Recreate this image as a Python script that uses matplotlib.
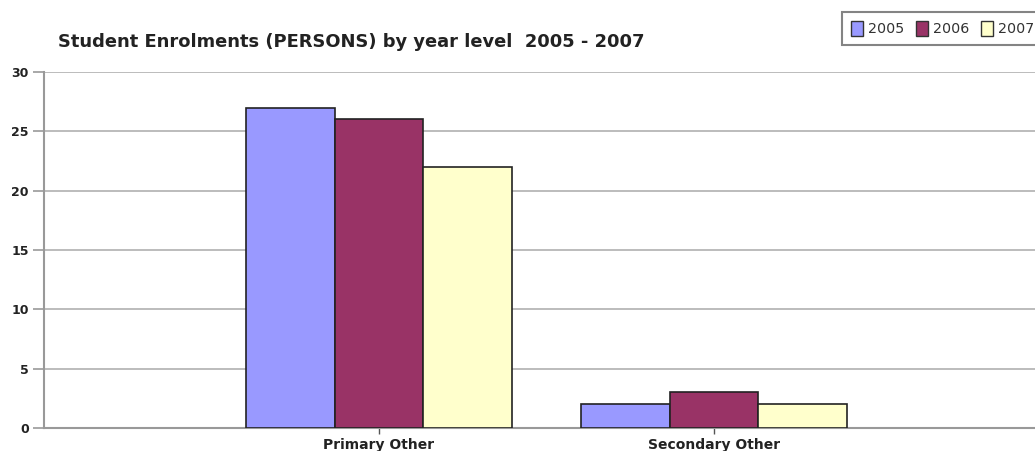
import matplotlib.pyplot as plt
import numpy as np
from matplotlib.patches import Patch

# enrolment counts per year level
categories = ["Primary Other", "Secondary Other"]
years = ["2005", "2006", "2007"]
enrol_2005 = [27, 2]
enrol_2006 = [26, 3]
enrol_2007 = [22, 2]

colours = ["#9999ff", "#993366", "#ffffcc"]
series = [enrol_2005, enrol_2006, enrol_2007]

plt.rcParams['font.family'] = ['DejaVu Sans']

fig = plt.figure(figsize=(10.35, 4.51), dpi=100)
# plot area runs past the right edge of the image
ax = fig.add_axes([44 / 1035, (451 - 428) / 451, 1005 / 1035, 356 / 451])

x = np.arange(len(categories))
w = 0.265
for i, (vals, col) in enumerate(zip(series, colours)):
    ax.bar(x + (i - 1) * w, vals, width=w, color=col,
           edgecolor="#222222", linewidth=1.2, zorder=3)

ax.set_xlim(-1, 2)
ax.set_ylim(0, 30)
ax.set_yticks(range(0, 31, 5))
ax.yaxis.grid(True, color="#b0b0b0", linewidth=1.2, zorder=0)
ax.set_axisbelow(True)

for s in ["top", "right"]:
    ax.spines[s].set_visible(False)
for s in ["left", "bottom"]:
    ax.spines[s].set_color("#999999")
    ax.spines[s].set_linewidth(1.5)

ax.tick_params(axis="y", length=8, width=1.2, color="#999999", pad=3,
               labelsize=9)
ax.tick_params(axis="x", length=4, width=1, color="#555555", pad=3,
               labelsize=10)
ax.set_xticks(x)
ax.set_xticklabels(categories, fontweight="bold", color="#222222")
for lbl in ax.get_yticklabels():
    lbl.set_fontweight("bold")
    lbl.set_color("#222222")

fig.text(58 / 1035, 1 - 42 / 451, "Student Enrolments (PERSONS) by year level  2005 - 2007",
         fontsize=12.9, fontweight="bold", color="#222222", va="center", ha="left")

handles = [Patch(facecolor=c, edgecolor="#333333", linewidth=1) for c in colours]
leg = fig.legend(handles, years, loc="upper left",
                 bbox_to_anchor=(842 / 1035, 1 - 12 / 451),
                 ncol=3, frameon=True, fancybox=False, fontsize=10.3,
                 handlelength=0.86, handleheight=1.25, handletextpad=0.36,
                 columnspacing=0.8, borderpad=0.6, borderaxespad=0)
leg.get_frame().set_edgecolor("#666666")
leg.get_frame().set_linewidth(1.5)
for t in leg.get_texts():
    t.set_color("#333333")

fig.savefig("out.png", dpi=100)
